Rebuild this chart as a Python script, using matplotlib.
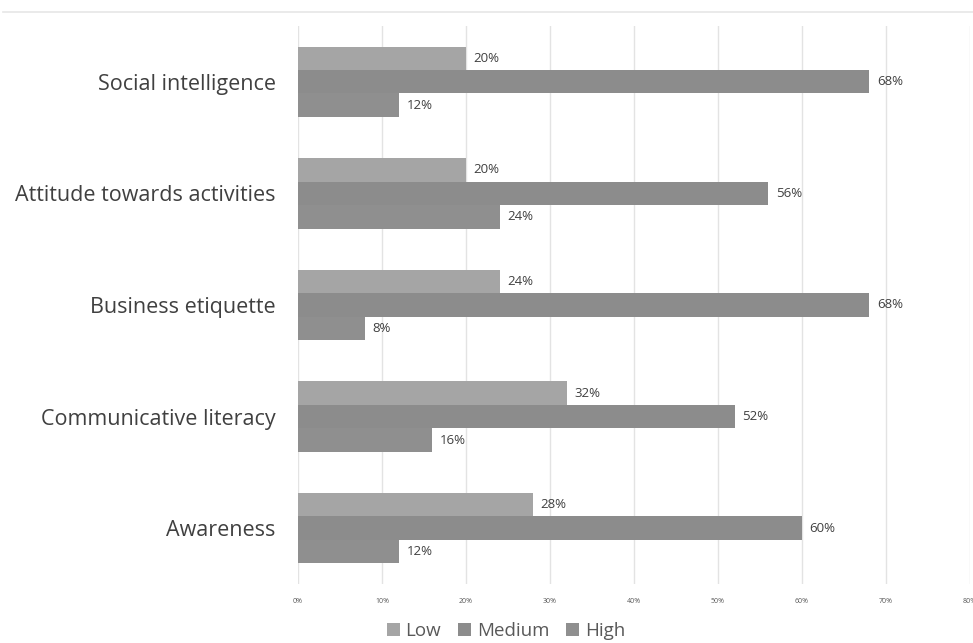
import numpy as np
import matplotlib.pyplot as plt
from matplotlib.lines import Line2D

# data (percent)
categories = ["Social intelligence", "Attitude towards activities", "Business etiquette",
              "Communicative literacy", "Awareness"]
low = [20, 20, 24, 32, 28]
medium = [68, 56, 68, 52, 60]
high = [12, 24, 8, 16, 12]
series_names = ["Low", "Medium", "High"]
colors = ["#a5a5a5", "#8c8c8c", "#8f8f8f"]
xticks = [0, 10, 20, 30, 40, 50, 60, 70, 80]

plt.rcParams['font.family'] = ['Open Sans', 'DejaVu Sans']

fig = plt.figure(figsize=(9.73, 6.43), dpi=100)
ax = fig.add_axes([0.3063, 0.0918, 0.6906, 0.8678])

y = np.arange(len(categories))
h = 0.21
for k, (vals, name, col) in enumerate(zip([low, medium, high], series_names, colors)):
    bars = ax.barh(y + (k - 1) * h, vals, height=h, color=col, label=name, zorder=2)
    for b, v in zip(bars, vals):
        ax.text(b.get_width() + 0.9, b.get_y() + b.get_height() / 2, f"{v}%",
                va="center", ha="left", fontsize=9.5, color="#404040")

ax.set_xlim(0, 80)
ax.set_ylim(len(categories) - 0.5, -0.5)
ax.set_xticks(xticks)
ax.set_xticklabels([f"{t}%" for t in xticks], fontsize=5, color="#595959")
ax.set_yticks(y)
ax.set_yticklabels(categories, fontsize=15.5, color="#404040")
ax.tick_params(axis="both", length=0)
ax.tick_params(axis="y", pad=16)
ax.tick_params(axis="x", pad=10)
ax.grid(axis="x", color="#e3e3e3", linewidth=1, zorder=0)
for s in ax.spines.values():
    s.set_visible(False)

leg = fig.legend(loc="lower center", bbox_to_anchor=(0.52, -0.022), ncol=3, frameon=False,
                 fontsize=13.5, handlelength=0.7, handleheight=0.7, handletextpad=0.3,
                 columnspacing=0.9, labelcolor="#595959")

# thin rule at the top of the picture
fig.add_artist(Line2D([0.003, 1.0], [0.981, 0.981], color="#e6e6e6", linewidth=1.2))

fig.savefig("out.png", dpi=100)
